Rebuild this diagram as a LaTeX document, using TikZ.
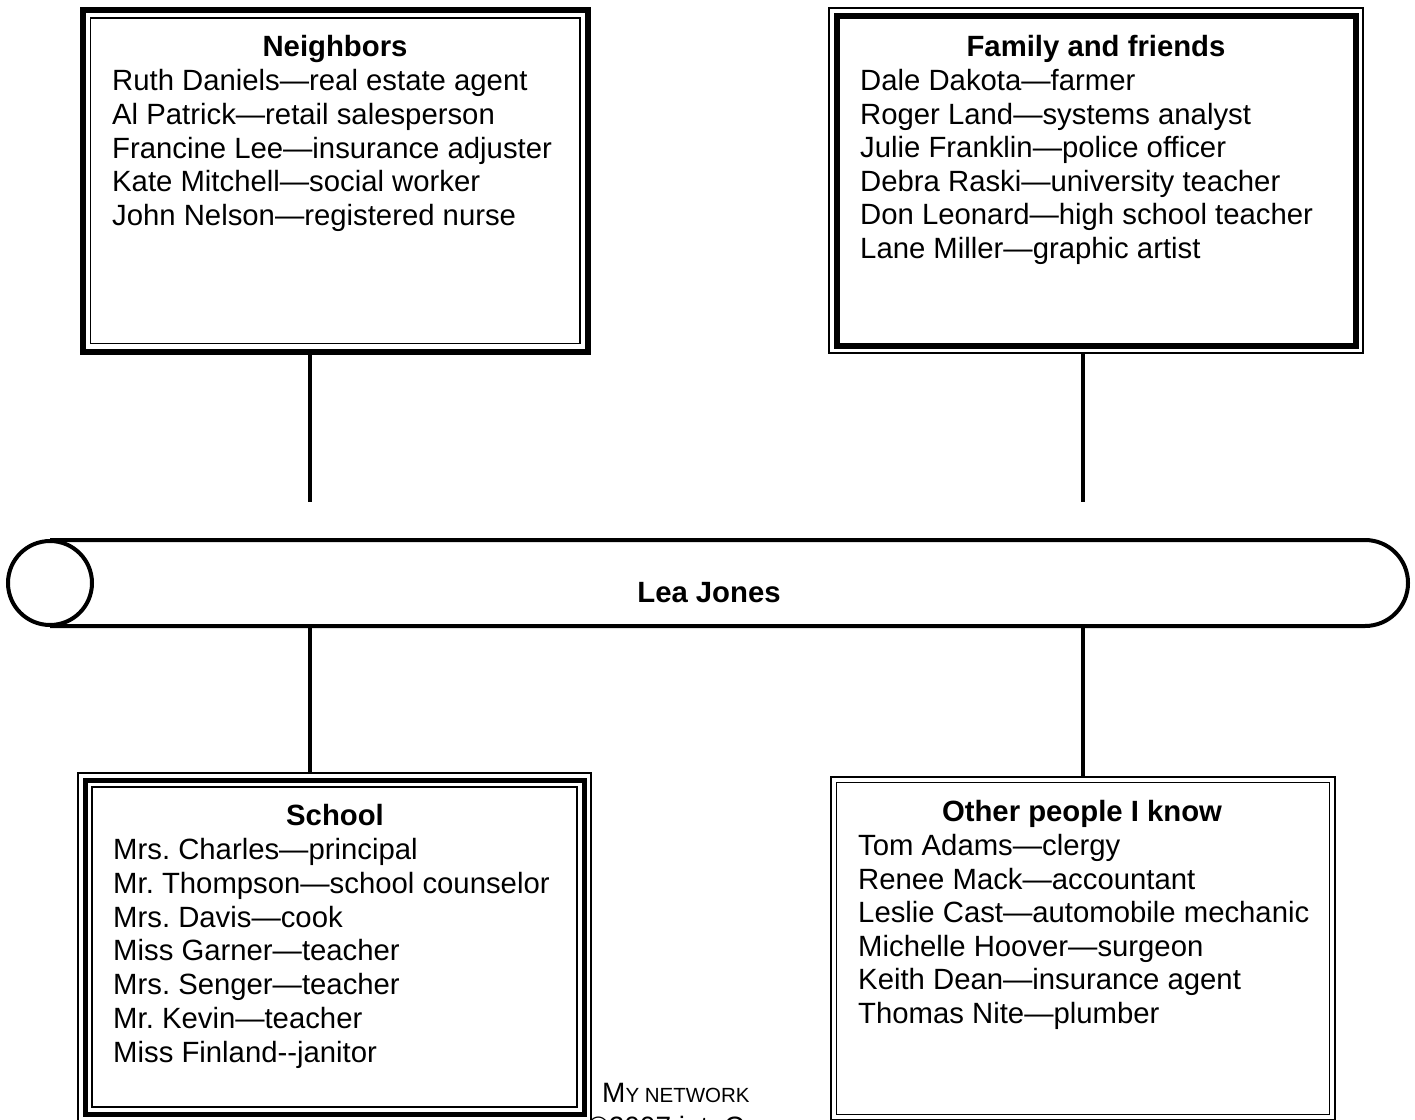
\documentclass[tikz,border=0pt]{standalone}
\usepackage{fontspec}
\setmainfont{Liberation Sans}
\frenchspacing
\begin{document}
\frenchspacing
\begin{tikzpicture}[x=1pt,y=1pt,
  txt/.style={inner sep=0pt,anchor=base west,font=\fontsize{29.3}{33.7}\selectfont},
  ttl/.style={inner sep=0pt,anchor=base,font=\fontsize{29.3}{33.7}\selectfont\bfseries},
  conn/.style={line width=4pt},
  thinline/.style={line width=1.6pt},
  thickline/.style={line width=6pt},
  boxshape/.style={rectangle,outer sep=0pt,inner sep=0pt}]
\useasboundingbox (0,0) rectangle (1415,-1119);

% Neighbors: thick outer, thin inner
\node[boxshape,draw,thickline,minimum width=505.5pt,minimum height=341.5pt] (nb) at (335.25,-180.75) {};
\draw[thinline] ([shift={(8,-8)}]nb.north west) rectangle ([shift={(-8,8)}]nb.south east);

% Family and friends: thin outer, thick inner
\node[boxshape,draw,thinline,minimum width=534pt,minimum height=345pt] (ff) at (1096,-180.5) {};
\draw[thickline] ([shift={(7.5,-7.5)}]ff.north west) rectangle ([shift={(-7.5,7.5)}]ff.south east);

% School: thin, thick, thin
\node[boxshape,draw,thinline,minimum width=513pt,minimum height=348pt] (sc) at (334.5,-947) {};
\draw[line width=5pt] ([shift={(7,-7)}]sc.north west) rectangle ([shift={(-7,7)}]sc.south east);
\draw[thinline] ([shift={(14,-14)}]sc.north west) rectangle ([shift={(-14,14)}]sc.south east);

% Other people: thin, thin
\node[boxshape,draw,thinline,minimum width=504pt,minimum height=343pt] (ot) at (1083,-948.5) {};
\draw[thinline] ([shift={(5.5,-5.5)}]ot.north west) rectangle ([shift={(-5.5,5.5)}]ot.south east);

% Scroll
\draw[line width=4pt] (50,-540) -- (1365,-540) arc[start angle=90,end angle=-90,radius=43] -- (50,-626);
\draw[line width=4pt,fill=white] (50,-583) circle[radius=42];
\node[ttl] (lea) at (709,-602.5) {Lea Jones};

% Connectors
\coordinate (t1) at (310,-502);
\coordinate (t2) at (1083,-502);
\coordinate (b1) at (310,-626);
\coordinate (b2) at (1083,-626);
\draw[conn] (nb.south -| t1) -- (t1);
\draw[conn] (ff.south -| t2) -- (t2);
\draw[conn] (b1) -- (sc.north -| b1);
\draw[conn] (b2) -- (ot.north -| b2);

% Titles
\node[ttl] (nbt) at (335,-56.5) {Neighbors};
\node[ttl] (fft) at (1096,-56.5) {Family and friends};
\node[ttl] (sct) at (335,-825.5) {School};
\node[ttl] (ott) at (1082,-821.5) {Other people I know};

% Lists
\foreach \t [count=\i] in {Ruth Daniels—real estate agent,Al Patrick—retail salesperson,Francine Lee—insurance adjuster,Kate Mitchell—social worker,John Nelson—registered nurse}
  \node[txt] (nb\i) at (112,{-90.5-33.75*(\i-1)}) {\t};
\foreach \t [count=\i] in {Dale Dakota—farmer,Roger Land—systems analyst,Julie Franklin—police officer,Debra Raski—university teacher,Don Leonard—high school teacher,Lane Miller—graphic artist}
  \node[txt] (ff\i) at (860,{-90.5-33.6*(\i-1)}) {\t};
\foreach \t [count=\i] in {Mrs. Charles—principal,Mr. Thompson—school counselor,Mrs. Davis—cook,Miss Garner—teacher,Mrs. Senger—teacher,Mr. Kevin—teacher,Miss Finland-{}-janitor}
  \node[txt] (sc\i) at (113,{-859.5-33.8*(\i-1)}) {\frenchspacing\t};
\foreach \t [count=\i] in {Tom Adams—clergy,Renee Mack—accountant,Leslie Cast—automobile mechanic,Michelle Hoover—surgeon,Keith Dean—insurance agent,Thomas Nite—plumber}
  \node[txt] (ot\i) at (858,{-855.5-33.6*(\i-1)}) {\t};

% Caption
\node[inner sep=0pt,anchor=base west,font=\fontsize{28}{33}\selectfont] (cap1) at (602,-1102) {M{\fontsize{20.5}{24}\selectfont Y NETWORK}};
\node[inner sep=0pt,anchor=base west,font=\fontsize{28}{33}\selectfont] (cap2) at (588,-1136) {©2007 intoCareers};
\end{tikzpicture}
\end{document}
